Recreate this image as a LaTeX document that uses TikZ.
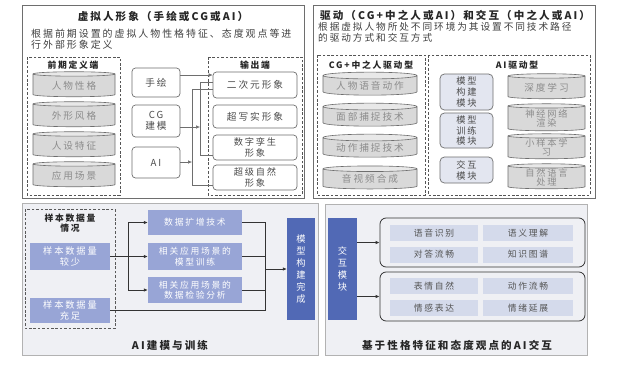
\documentclass[tikz,border=0pt]{standalone}
\usepackage{fontspec}
\setmainfont{Noto Sans CJK SC}[LetterSpace=20]
\usetikzlibrary{shapes.geometric,arrows.meta}
\definecolor{framegray}{HTML}{6E6E6E}
\definecolor{dashgray}{HTML}{555555}
\definecolor{cylfill}{HTML}{D9D9D9}
\definecolor{cyltop}{HTML}{E8E8E8}
\definecolor{cyltext}{HTML}{8C8C8C}
\definecolor{modfill}{HTML}{E3E6F0}
\definecolor{panelfill}{HTML}{EFF0F4}
\definecolor{lightblue}{HTML}{98A5D6}
\definecolor{darkblue}{HTML}{5169B5}
\definecolor{cellfill}{HTML}{D4DAEB}
\definecolor{celltext}{HTML}{555555}
\definecolor{linecol}{HTML}{333333}
\newcommand{\pxu}{0.04cm}
\begin{document}
\begin{tikzpicture}[x=0.04cm,y=-0.04cm,
  >={Latex[length=4.5pt,width=4pt]},
  sz/.style 2 args={minimum width=#1*\pxu,minimum height=#2*\pxu,inner sep=0pt},
  panel/.style={draw=framegray,line width=0.9pt},
  dashbox/.style={draw=dashgray,line width=0.8pt,dash pattern=on 3pt off 2pt},
  head/.style={font=\bfseries\fontsize{12}{14}\selectfont,text=black!85},
  desc/.style={anchor=north west,align=left,inner sep=0pt,text=black!75,
    font=\fontsize{11.3}{12.6}\selectfont},
  sublabel/.style={font=\bfseries\fontsize{10}{12}\selectfont,text=black!85,align=center},
  drum/.style={cylinder,shape border rotate=90,aspect=0.1,draw=framegray,line width=0.7pt,
    cylinder uses custom fill,cylinder body fill=cylfill,cylinder end fill=cyltop,
    text=cyltext,align=center,font=\fontsize{11}{12}\selectfont,inner sep=0pt},
  wbox/.style={draw=framegray,line width=0.8pt,rounded corners=4pt,fill=white,
    align=center,text=black!70,font=\fontsize{11}{12.5}\selectfont},
  modbox/.style={draw=framegray,line width=0.8pt,rounded corners=5pt,fill=modfill,
    align=center,text=black!70,font=\fontsize{10.5}{12.5}\selectfont},
  bluebox/.style={fill=lightblue,text=white,align=center,font=\fontsize{10.5}{12}\selectfont},
  darkbox/.style={fill=darkblue,text=white,align=center,font=\fontsize{10.5}{13.5}\selectfont},
  cell/.style={fill=cellfill,text=celltext,font=\fontsize{10}{12}\selectfont,sz={#1}{16}},
  group/.style={draw=linecol,line width=0.9pt,rounded corners=7pt},
  conn/.style={draw=linecol,line width=0.9pt},
  thinconn/.style={draw=framegray,line width=0.6pt}
]
\useasboundingbox (0,0) rectangle (619,368);

% upper left: appearance
\draw[panel,fill=white] (22,5) rectangle (304,198);
\node[head] (titleTL) at (163,16) {虚拟人形象（手绘或CG或AI）};
\node[desc] (descTL) at (31,29) {根据前期设置的虚拟人物性格特征、态度观点等进\\行外部形象定义};
\draw[dashbox] (27,57) rectangle (120,195);
\node[sublabel] (defLabel) at (73,65) {前期定义端};
\node[drum,sz={82}{25}] (persona) at (74,85.5) {人物性格};
\node[drum,sz={82}{25}] (style) at (74,115.5) {外形风格};
\node[drum,sz={82}{25}] (setting) at (74,145.5) {人设特征};
\node[drum,sz={82}{25}] (scene) at (74,175.5) {应用场景};
\node[wbox,sz={48}{29}] (hand) at (156,82.5) {手绘};
\node[wbox,sz={48}{32}] (cg) at (156,121) {CG\\建模};
\node[wbox,sz={48}{31}] (ai) at (156,162.5) {AI};
\draw[dashbox] (208,57) rectangle (302,195);
\node[sublabel] (outLabel) at (255,65) {输出端};
\node[wbox,sz={84}{26}] (anime) at (255,85) {二次元形象};
\node[wbox,sz={84}{23}] (real) at (255,116.5) {超写实形象};
\node[wbox,sz={84}{25},font=\fontsize{10.5}{11.5}\selectfont] (twin) at (255,147.5) {数字孪生\\形象};
\node[wbox,sz={84}{25},font=\fontsize{10.5}{11.5}\selectfont] (nature) at (255,177.5) {超级自然\\形象};
\coordinate (cgBus) at (200,127);
\coordinate (aiBus) at (192,162);
\draw[thinconn,->] ([yshift=7.5*\pxu]hand.east) coordinate (handOut) -- (handOut -| anime.west);
\draw[thinconn] (anime.west |- 0,82) -- (cgBus |- 0,82) -- (cgBus |- 0,155) -- (twin.west |- 0,155);
\draw[thinconn] (anime.west |- 0,89) -- (aiBus |- 0,89) -- (aiBus |- 0,185) -- (nature.west |- 0,185);
\draw[thinconn,->] (cg.east |- cgBus) -- (cgBus);
\draw[thinconn,->] (ai.east |- aiBus) -- (aiBus);

% upper right: driving and interaction
\draw[panel,fill=white] (313,5) rectangle (595,198);
\node[head,anchor=west] (titleTR) at (317,15) {驱动（CG+中之人或AI）和交互（中之人或AI）};
\node[desc,font=\fontsize{11}{12.4}\selectfont] (descTR) at (318,22) {根据虚拟人物所处不同环境为其设置不同技术路径\\的驱动方式和交互方式};
\draw[dashbox] (317,55) rectangle (425,195);
\node[sublabel] (cgLabel) at (371,65) {CG+中之人驱动型};
\node[drum,sz={94}{23}] (voice) at (370,85.5) {人物语音动作};
\node[drum,sz={94}{23}] (face) at (370,116.5) {面部捕捉技术};
\node[drum,sz={94}{23}] (motion) at (370,147.5) {动作捕捉技术};
\node[drum,sz={94}{23}] (av) at (370,179) {音视频合成};
\draw[dashbox] (428,55) rectangle (590,195);
\node[sublabel] (aiLabel) at (517,65) {AI驱动型};
\node[modbox,sz={53}{36}] (build) at (466.5,92) {模型\\构建\\模块};
\node[modbox,sz={53}{35}] (train) at (466.5,130.5) {模型\\训练\\模块};
\node[modbox,sz={53}{26}] (interact) at (466.5,170) {交互\\模块};
\node[drum,sz={77}{25}] (deep) at (546.5,87.5) {深度学习};
\node[drum,sz={77}{27},font=\fontsize{10.5}{11}\selectfont] (neural) at (546.5,118.5) {神经网络\\渲染};
\node[drum,sz={77}{25},font=\fontsize{10.5}{11}\selectfont] (few) at (546.5,147.5) {小样本学\\习};
\node[drum,sz={77}{25},font=\fontsize{10.5}{11}\selectfont] (nlp) at (546.5,177.5) {自然语言\\处理};

% lower left: modelling and training
\draw[panel,draw=black!30,fill=panelfill] (22,203) rectangle (318,355);
\node[head] (titleBL) at (170,345) {AI建模与训练};
\draw[dashbox,draw=black!65] (25,209) rectangle (115,328);
\node[sublabel,font=\bfseries\fontsize{10}{11.5}\selectfont] (sampLabel) at (70,223) {样本数据量\\情况};
\node[bluebox,sz={80}{27}] (few2) at (70,256.5) {样本数据量\\较少};
\node[bluebox,sz={80}{25}] (enough) at (70,310.5) {样本数据量\\充足};
\node[bluebox,sz={94}{25},font=\fontsize{10}{12}\selectfont] (aug) at (195,222.5) {数据扩增技术};
\node[bluebox,sz={94}{27},font=\fontsize{10}{12}\selectfont] (sceneTrain) at (195,256.5) {相关应用场景的\\模型训练};
\node[bluebox,sz={94}{26},font=\fontsize{10}{12}\selectfont] (sceneCheck) at (195,290) {相关应用场景的\\数据检验分析};
\node[darkbox,sz={28}{102}] (done) at (301,269) {模\\型\\构\\建\\完\\成};
\coordinate (split) at (128,256.5);
\coordinate (merge) at (265,269);
\draw[conn] (few2.east) -- (split);
\draw[conn,->] (split) |- (aug.west);
\draw[conn,->] (split) -- (sceneTrain.west);
\draw[conn,->] (split) |- (sceneCheck.west);
\draw[conn] (aug.east) -| (merge);
\draw[conn] (enough.east) -| (merge);
\draw[conn] (sceneTrain.east) -- (sceneTrain.east -| merge);
\draw[conn] (sceneCheck.east) -- (sceneCheck.east -| merge);
\draw[conn,->] (merge) -- (done.west);

% lower right: interaction
\draw[panel,draw=black!30,fill=panelfill] (325,204) rectangle (587,355);
\node[head] (titleBR) at (457,345) {基于性格特征和态度观点的AI交互};
\node[darkbox,sz={29}{102}] (module) at (342.5,269) {交\\互\\模\\块};
\node[group,sz={205}{49}] (speech) at (482.5,242.5) {};
\node[group,sz={205}{49}] (expr) at (482.5,296.5) {};
\node[cell={88}] (asr) at (434,233) {语音识别};
\node[cell={90}] (nlu) at (528,233) {语义理解};
\node[cell={88}] (dialog) at (434,254.5) {对答流畅};
\node[cell={90}] (kg) at (528,254.5) {知识图谱};
\node[cell={88}] (face2) at (434,286) {表情自然};
\node[cell={90}] (move) at (528,286) {动作流畅};
\node[cell={88}] (emotion) at (434,308) {情感表达};
\node[cell={90}] (mood) at (528,308) {情绪延展};
\draw[conn,->] (module.east |- speech.west) -- (speech.west);
\draw[conn,->] (module.east |- expr.west) -- (expr.west);
\end{tikzpicture}
\end{document}
